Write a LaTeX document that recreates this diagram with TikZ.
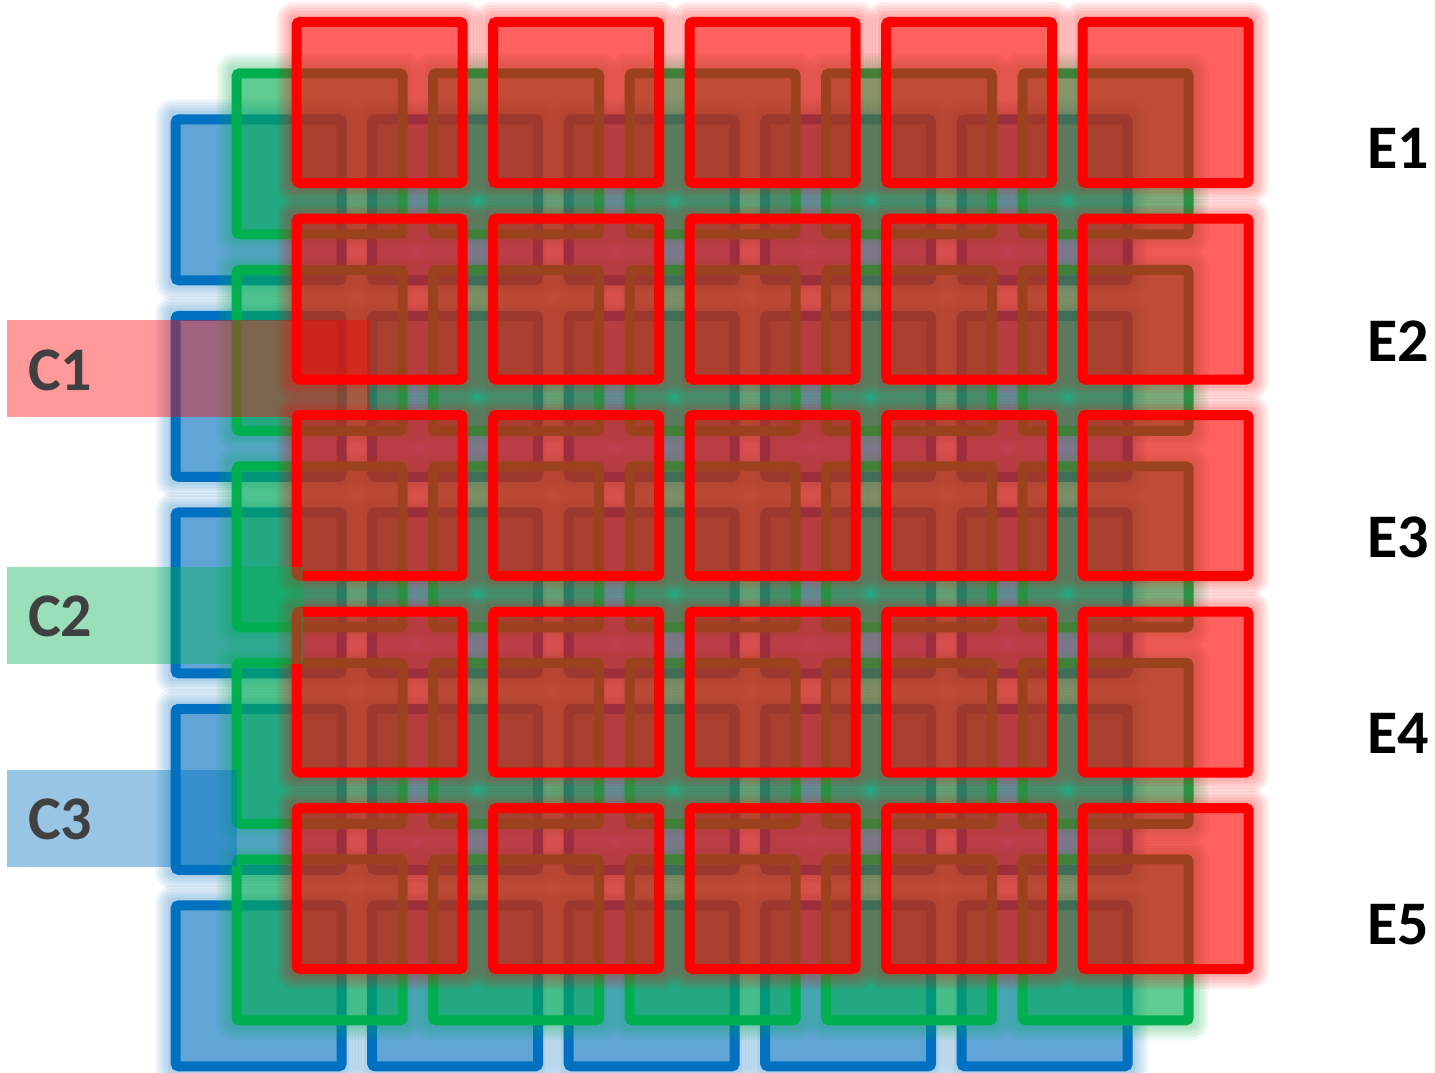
\documentclass[tikz,border=0pt]{standalone}
\usepackage{fontspec}
\setmainfont{Carlito}
\definecolor{lred}{HTML}{FF0000}
\definecolor{lgreen}{HTML}{00B050}
\definecolor{lblue}{HTML}{0070C0}
\definecolor{lgray}{HTML}{404040}
\newcommand\gridlayer[4]{%
  \foreach \i in {0,...,4}{\foreach \j in {0,...,4}{%
    \foreach \k in {1,...,5}{%
      \pgfmathsetmacro\rr{3*\k+3}%
      \pgfmathsetmacro\dd{3*\k}%
      \fill[#1, opacity=0.07, rounded corners=\rr pt]
        ({#2+\i*196.5-\dd},{#3+\j*196.5-\dd}) rectangle
        ({#2+\i*196.5+176+\dd},{#3+\j*196.5+171+\dd});
    }}}%
  \foreach \i in {0,...,4}{\foreach \j in {0,...,4}{%
    \node[sq, draw=#1, fill=#1] (#4-\i-\j) at ({#2+\i*196.5+88},{#3+\j*196.5+85.5}) {};
  }}%
}
\begin{document}
\begin{tikzpicture}[x=1pt,y=-1pt,
  sq/.style={rectangle, inner sep=0pt, outer sep=0pt, minimum width=166pt,
    minimum height=161pt, line width=10pt, rounded corners=3pt, fill opacity=0.45},
  bar/.style={rectangle, inner sep=0pt, outer sep=0pt, anchor=north west, fill opacity=0.4},
  clab/.style={anchor=west, inner sep=0pt, text=lgray, font=\fontsize{62}{62}\selectfont\bfseries},
  elab/.style={anchor=west, inner sep=0pt, text=black, font=\fontsize{62}{62}\selectfont\bfseries}]
\useasboundingbox (0,0) rectangle (1435,1073);
\fill[white] (0,0) rectangle (1435,1073);
\gridlayer{lblue}{170.7}{114.3}{b}
\gridlayer{lgreen}{231.7}{68.3}{g}
\gridlayer{lred}{291.7}{17}{r}
% label bars
\node[bar, fill=lred, minimum width=363pt, minimum height=97pt] (c1bar) at (7,320) {};
\node[bar, fill=lgreen, minimum width=296pt, minimum height=97pt] (c2bar) at (7,567) {};
\node[bar, fill=lblue, minimum width=230pt, minimum height=97pt] (c3bar) at (7,770) {};
\node[clab] (c1) at (28,370) {C1};
\node[clab] (c2) at (28,616) {C2};
\node[clab] (c3) at (28,819) {C3};
\node[elab] (e1) at (1367,148) {E1};
\node[elab] (e2) at (1367,341) {E2};
\node[elab] (e3) at (1367,537) {E3};
\node[elab] (e4) at (1367,733) {E4};
\node[elab] (e5) at (1367,925) {E5};
\end{tikzpicture}
\end{document}
